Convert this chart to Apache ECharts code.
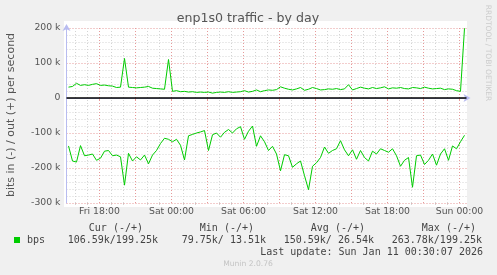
<!DOCTYPE html>
<html><head><meta charset="utf-8">
<script src="https://cdn.jsdelivr.net/npm/echarts@6/dist/echarts.min.js"></script>
<style>html,body{margin:0;padding:0;background:#f0f0f0}#c{width:497px;height:275px}</style>
</head><body><div id="c"></div>
<script>
const chartTitle = 'enp1s0 traffic - by day';
const yAxisTitle = 'bits in (-) / out (+) per second';
// samples every 20 minutes, first sample Fri 15:25 (hours counted from Fri 00:00)
const startHour = 15 + 25 / 60;
const stepHour = 20 / 60;
const outK = [31,33,42,36,38,36,39,41,36,37,35,34,30,31,113,31,30,29,30,31,
  33,28,27,26,25,110,19,21,18,19,17,18,16,17,16,17,14,16,17,16,
  18,16,17,18,21,17,19,23,18,21,23,22,24,32,28,25,23,26,30,22,
  25,30,27,23,24,26,25,27,24,26,38,23,27,31,28,26,30,27,29,32,
  26,29,28,30,27,26,30,29,27,31,28,26,27,28,24,26,25,21,19,199.25];
const inK = [137,180,183,136,165,163,160,178,172,152,150,165,163,168,249,158,180,168,177,163,
  188,163,150,130,115,118,125,118,135,177,108,104,100,97,93,150,105,100,112,98,
  90,100,88,82,118,95,80,138,108,125,150,138,160,208,162,165,198,188,180,222,
  262,195,185,170,140,158,150,145,122,148,165,148,175,150,170,180,152,160,145,150,
  155,145,165,195,178,170,255,165,163,190,178,160,192,160,145,178,137,145,125,106.59];
const labelHours = [18, 24, 30, 36, 42, 48];
const majorHours = [18, 21, 24, 27, 30, 33, 36, 39, 42, 45, 48];
const minorHours = [16,17,19,20,22,23,25,26,28,29,31,32,34,35,37,38,40,41,43,44,46,47];
const dayNames = ['Fri', 'Sat', 'Sun'];
const statHeaders = ['Cur (-/+)', 'Min (-/+)', 'Avg (-/+)', 'Max (-/+)'];
const statValues = ['106.59k/199.25k', '79.75k/ 13.51k', '150.59k/ 26.54k', '263.78k/199.25k'];
const legendName = 'bps';
const lastUpdate = 'Last update: Sun Jan 11 00:30:07 2026';
const footer = 'Munin 2.0.76';
const sideText = 'RRDTOOL / TOBI OETIKER';

const green = '#00cc00';
const red = '#e69a9a';
const gray = '#d4d4d4';
const axisBlue = '#b8bcf0';

const outData = outK.map((v, i) => [startHour + i * stepHour, v * 1000]);
const inData = inK.map((v, i) => [startHour + i * stepHour, -v * 1000]);

function hourLabel(h) {
  const d = Math.floor(h / 24);
  const hh = Math.round(h - d * 24);
  return dayNames[d] + ' ' + String(hh).padStart(2, '0') + ':00';
}

const chart = echarts.init(document.getElementById('c'), null, {renderer: 'canvas'});
const mono = '10px "DejaVu Sans Mono"';
const colR = [143, 254, 365, 476];
const valR = [158, 266, 374, 482];
const graphics = [
  {type: 'rect', z: -1, shape: {x: 64, y: 21, width: 403, height: 186}, style: {fill: '#ffffff'}},
  {type: 'text', x: 248, y: 19, style: {text: chartTitle, font: '12.6px "DejaVu Sans"', fill: '#555', textAlign: 'center', textVerticalAlign: 'middle'}},
  {type: 'text', x: 11, y: 115, rotation: Math.PI / 2, style: {text: yAxisTitle, font: '11px "DejaVu Sans"', fill: '#555', textAlign: 'center', textVerticalAlign: 'middle'}},
  {type: 'text', x: 488, y: 53, rotation: -Math.PI / 2, style: {text: sideText, font: '7.5px "DejaVu Sans"', fill: '#cccccc', textAlign: 'center', textVerticalAlign: 'middle'}},
  {type: 'rect', shape: {x: 14, y: 237, width: 6, height: 6}, style: {fill: green}},
  {type: 'text', x: 27, y: 240, style: {text: legendName, font: mono, fill: '#444', textAlign: 'left', textVerticalAlign: 'middle'}},
  {type: 'text', x: 483, y: 252, style: {text: lastUpdate, font: mono, fill: '#444', textAlign: 'right', textVerticalAlign: 'middle'}},
  {type: 'text', x: 248, y: 264, style: {text: footer, font: '7.6px "DejaVu Sans"', fill: '#c4c4c4', textAlign: 'center', textVerticalAlign: 'middle'}}
];
statHeaders.forEach((t, i) => graphics.push({type: 'text', x: colR[i], y: 228, style: {text: t, font: mono, fill: '#444', textAlign: 'right', textVerticalAlign: 'middle'}}));
statValues.forEach((t, i) => graphics.push({type: 'text', x: valR[i], y: 240, style: {text: t, font: mono, fill: '#444', textAlign: 'right', textVerticalAlign: 'middle'}}));

const xMin = 15.25, xMax = 48 + 35 / 60;
chart.setOption({
  backgroundColor: '#f0f0f0',
  animation: false,
  grid: {left: 66.5, right: 30.5, top: 28, bottom: 72, containLabel: false, outerBoundsMode: 'none', show: false},
  xAxis: [
    {
      type: 'value', min: xMin, max: xMax, position: 'bottom', z: 3,
      axisLine: {show: true, lineStyle: {color: axisBlue, width: 1}, symbol: ['none', 'arrow'], symbolSize: [6, 7], symbolOffset: [0, 4]},
      axisTick: {show: true, inside: false, length: 3, customValues: majorHours, lineStyle: {color: red}},
      axisLabel: {show: true, customValues: labelHours, formatter: hourLabel, margin: 4, color: '#555', fontFamily: 'DejaVu Sans', fontSize: 9.3},
      splitLine: {show: false}
    },
    {
      type: 'value', min: xMin, max: xMax, position: 'bottom', z: 1,
      axisLine: {show: false},
      axisTick: {show: true, inside: false, length: 2, customValues: minorHours, lineStyle: {color: gray}},
      axisLabel: {show: false},
      splitLine: {show: false}
    }
  ],
  yAxis: {
    type: 'value', min: -300000, max: 200000, interval: 100000, z: 2,
    axisLine: {show: true, lineStyle: {color: axisBlue, width: 1}, symbol: ['none', 'arrow'], symbolSize: [6, 7], symbolOffset: [0, 4]},
    axisTick: {show: false},
    axisLabel: {margin: 6, color: '#555', fontFamily: 'DejaVu Sans', fontSize: 9.3,
      formatter: v => v === 0 ? '0' : (v / 1000) + ' k'},
    splitLine: {show: true, lineStyle: {color: red, type: [1, 2], width: 1}},
    minorTick: {show: false, splitNumber: 5},
    minorSplitLine: {show: true, lineStyle: {color: gray, type: [1, 2], width: 1}}
  },
  series: [
    {
      type: 'line', name: 'minorgrid', xAxisIndex: 0, data: [], z: 1, silent: true,
      markLine: {silent: true, symbol: 'none', label: {show: false}, animation: false,
        lineStyle: {color: gray, width: 1, type: [1, 2]}, data: minorHours.map(h => ({xAxis: h}))}
    },
    {
      type: 'line', name: 'majorgrid', xAxisIndex: 0, data: [], z: 2, silent: true,
      markLine: {silent: true, symbol: 'none', label: {show: false}, animation: false,
        lineStyle: {color: red, width: 1, type: [1, 2]}, data: majorHours.map(h => ({xAxis: h}))}
    },
    {
      type: 'line', name: 'out', xAxisIndex: 0, data: outData, showSymbol: false, symbol: 'none',
      lineStyle: {color: green, width: 1}, itemStyle: {color: green}, z: 5,
      markLine: {silent: true, symbol: 'none', label: {show: false}, lineStyle: {color: '#000', width: 1.5, type: 'solid'}, data: [{yAxis: 0}]}
    },
    {
      type: 'line', name: 'in', xAxisIndex: 0, data: inData, showSymbol: false, symbol: 'none',
      lineStyle: {color: green, width: 1}, itemStyle: {color: green}, z: 5
    }
  ],
  graphic: {elements: graphics}
});
</script></body></html>
